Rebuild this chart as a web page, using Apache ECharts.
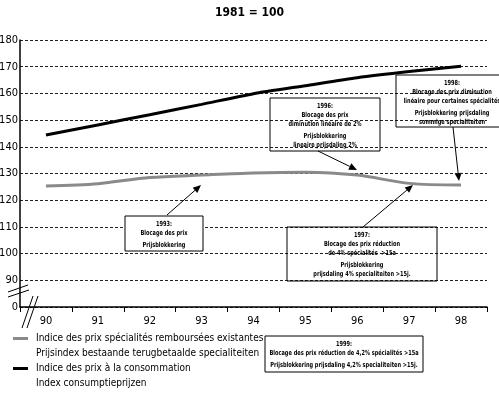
<!DOCTYPE html>
<html>
<head>
<meta charset="utf-8">
<script src="https://cdn.jsdelivr.net/npm/echarts@6/dist/echarts.min.js"></script>
<style>
html, body { margin: 0; padding: 0; background: #fff; }
#chart { width: 499px; height: 398px; }
</style>
</head>
<body>
<div id="chart"></div>
<script>
// data (1981 = 100)
var years = ['90', '91', '92', '93', '94', '95', '96', '97', '98'];
var specialites = [125.3, 126.2, 128.5, 129.4, 130.2, 130.5, 129.4, 126.3, 125.7];
var consommation = [144.4, 148.2, 152.0, 155.9, 159.9, 162.9, 165.9, 168.2, 170.2];
var namesFr = ['Indice des prix spécialités remboursées existantes', 'Indice des prix à la consommation'];
var namesNl = ['Prijsindex bestaande terugbetaalde specialiteiten', 'Index consumptieprijzen'];
// the axis is broken: bottom tick stands for 0
var yTicks = [80, 90, 100, 110, 120, 130, 140, 150, 160, 170, 180];
var yTickLabels = ['0', '90', '100', '110', '120', '130', '140', '150', '160', '170', '180'];

var FONT = "'Liberation Sans Narrow', 'DejaVu Sans Condensed', 'Liberation Sans', Arial, sans-serif";

var notes = [
  { box: [125, 216, 78, 35], fill: '#fff', fr: ['1993:', 'Blocage des prix'], nl: ['Prijsblokkering'], arrow: [167, 215, 201, 185] },
  { box: [270, 98, 110, 53], fill: null, fr: ['1996:', 'Blocage des prix', 'diminution linéaire de 2%'], nl: ['Prijsblokkering', 'lineaire prijsdaling 2%'], arrow: [318, 151, 357, 170] },
  { box: [396, 75, 110, 52], fill: null, cx: 452, fr: ['1998:', 'Blocage des prix diminution', 'linéaire pour certaines spécialités'], nl: ['Prijsblokkering prijsdaling', 'sommige specialiteiten'], arrow: [453, 127, 459, 181] },
  { box: [287, 227, 150, 54], fill: null, fr: ['1997:', 'Blocage des prix réduction', 'de 4% spécialités  >15a'], nl: ['Prijsblokkering', 'prijsdaling 4% specialiteiten >15j.'], arrow: [363, 227, 413, 185] },
  { box: [265, 336, 158, 36], fill: '#fff', fr: ['1999:', 'Blocage des prix réduction de 4,2% spécialités >15a'], nl: ['Prijsblokkering prijsdaling 4,2% specialiteiten >15j.'] }
];

function arrow(a) {
  var x1 = a[0], y1 = a[1], x2 = a[2], y2 = a[3];
  var ang = Math.atan2(y2 - y1, x2 - x1);
  var len = 8, w = 3.5;
  var bx = x2 - len * Math.cos(ang), by = y2 - len * Math.sin(ang);
  var px = -Math.sin(ang) * w, py = Math.cos(ang) * w;
  return [
    { type: 'line', shape: { x1: x1, y1: y1, x2: bx, y2: by }, style: { stroke: '#000', lineWidth: 1 } },
    { type: 'polygon', shape: { points: [[x2, y2], [bx + px, by + py], [bx - px, by - py]] }, style: { fill: '#000' } }
  ];
}

var graphics = [];
notes.forEach(function (n) {
  var b = n.box;
  var cx = n.cx || (b[0] + b[2] / 2);
  graphics.push({ type: 'rect', shape: { x: b[0], y: b[1], width: b[2], height: b[3] },
    style: { fill: n.fill || 'transparent', stroke: '#000', lineWidth: 1 }, z: 10 });
  var frH = n.fr.length * 9;
  graphics.push({ type: 'text', x: cx, y: b[1] + 4, z: 11, scaleX: 0.8,
    style: { text: n.fr.join('\n'), font: 'bold 7px ' + FONT, lineHeight: 9, align: 'center', verticalAlign: 'top', fill: '#000' } });
  graphics.push({ type: 'text', x: cx, y: b[1] + 4 + frH + 2, z: 11, scaleX: 0.8,
    style: { text: n.nl.join('\n'), font: 'bold 7px ' + FONT, lineHeight: 9.5, align: 'center', verticalAlign: 'top', fill: '#000' } });
  if (n.arrow) graphics = graphics.concat(arrow(n.arrow));
});
// break marks on the axes
graphics.push({ type: 'line', shape: { x1: 8, y1: 292, x2: 28, y2: 285 }, style: { stroke: '#000', lineWidth: 1 } });
graphics.push({ type: 'line', shape: { x1: 8, y1: 297, x2: 29, y2: 290 }, style: { stroke: '#000', lineWidth: 1 } });
graphics.push({ type: 'line', shape: { x1: 22, y1: 328, x2: 33, y2: 296 }, style: { stroke: '#000', lineWidth: 1 } });
graphics.push({ type: 'line', shape: { x1: 27, y1: 328, x2: 38, y2: 296 }, style: { stroke: '#000', lineWidth: 1 } });

var chart = echarts.init(document.getElementById('chart'));
chart.setOption({
  animation: false,
  backgroundColor: '#fff',
  textStyle: { fontFamily: FONT },
  title: {
    text: '1981 = 100', left: 'center', top: 2,
    textStyle: { fontFamily: FONT, fontSize: 12, fontWeight: 'bold', color: '#000' }
  },
  legend: {
    orient: 'vertical', left: 13, top: 331, height: 66, padding: 0,
    itemWidth: 18, itemHeight: 18, itemGap: 0,
    // bar at the top of a tall box, so it lines up with the first text line
    icon: 'path://M0,0H15V3H0Z M17.99,17.99H18V18H17.99Z',
    data: namesFr,
    formatter: function (name) { return name + '\n' + namesNl[namesFr.indexOf(name)]; },
    textStyle: { fontFamily: FONT, fontSize: 10, color: '#000', lineHeight: 15 }
  },
  grid: { left: 20, right: 12, top: 40, bottom: 91, outerBoundsMode: 'none' },
  xAxis: {
    type: 'category', data: years, boundaryGap: true,
    axisLine: { lineStyle: { color: '#000', width: 1.5 } },
    axisTick: { show: true, length: 5, lineStyle: { color: '#000' } },
    axisLabel: { color: '#000', fontSize: 11, margin: 9 },
    splitLine: { show: false }
  },
  yAxis: {
    type: 'value', min: 80, max: 180, interval: 10,
    axisLine: { show: true, lineStyle: { color: '#000', width: 1.5 } },
    axisTick: { show: false },
    axisLabel: { color: '#000', fontSize: 11, margin: 2,
      formatter: function (v) { return yTickLabels[yTicks.indexOf(v)]; } },
    splitLine: { show: true, lineStyle: { color: '#222', type: [3, 2], width: 1 } }
  },
  series: [
    { name: namesFr[0], type: 'line', data: specialites, smooth: 0.3, symbol: 'none',
      lineStyle: { color: '#8a8a8a', width: 3 }, itemStyle: { color: '#8a8a8a' } },
    { name: namesFr[1], type: 'line', data: consommation, smooth: 0.2, symbol: 'none',
      lineStyle: { color: '#000', width: 3 }, itemStyle: { color: '#000' } }
  ],
  graphic: graphics
});
</script>
</body>
</html>
